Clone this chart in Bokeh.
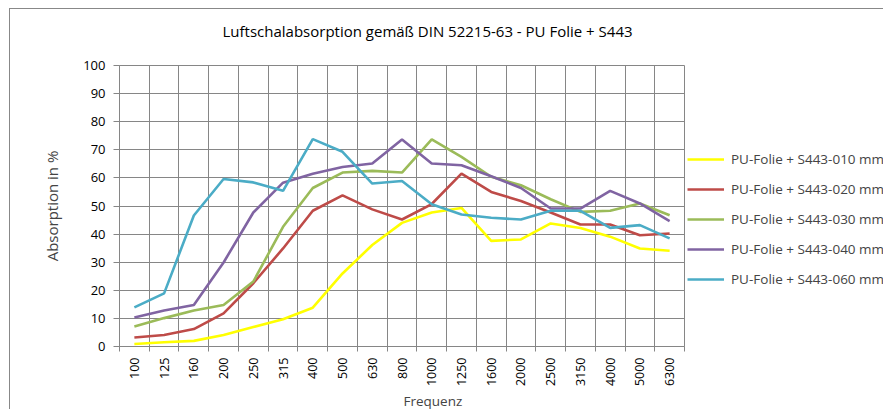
from bokeh.plotting import figure
from bokeh.models import Range1d, FixedTicker, Legend, LegendItem, Title, Label
from bokeh.layouts import row, column
from bokeh.embed import file_html
from bokeh.resources import INLINE
import math

freqs = ["100", "125", "160", "200", "250", "315", "400", "500", "630", "800",
         "1000", "1250", "1600", "2000", "2500", "3150", "4000", "5000", "6300"]

s010 = [0.9, 1.5, 2.0, 4.1, 6.9, 9.7, 13.8, 26.0, 36.1, 44.0, 47.7, 49.3, 37.6, 38.1, 43.8, 42.2, 39.1, 34.9, 34.1]
s020 = [3.2, 4.1, 6.2, 11.8, 22.5, 34.9, 48.3, 53.8, 48.8, 45.2, 50.7, 61.5, 55.0, 51.8, 47.7, 43.4, 43.4, 39.6, 40.2]
s030 = [7.1, 10.1, 12.8, 14.8, 23.1, 42.6, 56.4, 61.9, 62.5, 61.9, 73.7, 67.5, 60.4, 57.4, 52.4, 47.9, 48.3, 50.9, 46.7]
s040 = [10.3, 12.8, 14.8, 29.9, 47.7, 58.3, 61.5, 63.9, 65.1, 73.7, 65.1, 64.5, 60.6, 56.4, 49.1, 49.1, 55.4, 50.9, 44.6]
s060 = [13.9, 18.9, 46.6, 59.6, 58.4, 55.4, 73.8, 69.3, 58.0, 58.9, 50.6, 47.0, 45.8, 45.2, 48.3, 48.3, 42.2, 43.2, 38.5]

names = ["PU-Folie + S443-010 mm", "PU-Folie + S443-020 mm", "PU-Folie + S443-030 mm",
         "PU-Folie + S443-040 mm", "PU-Folie + S443-060 mm"]
colors = ["#FFFF00", "#BE4B48", "#9BBB59", "#8064A2", "#4BACC6"]
series = [s010, s020, s030, s040, s060]
title_text = "Luftschalabsorption gemäß DIN 52215-63 - PU Folie + S443"

FONT = "Open Sans"
GRID = "#868686"

n = len(freqs)
xs = list(range(n))

TOTAL_W = 873
TITLE_H = 45
MAIN_H = 355
MAIN_W = 677
TOP = 11


def bare(w, h, top=0):
    f = figure(width=w, height=h, output_backend="svg", toolbar_location=None,
               x_range=Range1d(1000, 1001), y_range=Range1d(1000, 1001),
               x_axis_location=None, y_axis_location=None,
               min_border_left=0, min_border_right=0, min_border_top=top, min_border_bottom=0,
               background_fill_color="white", border_fill_color="white")
    f.outline_line_color = None
    f.xgrid.visible = False
    f.ygrid.visible = False
    return f


# ---- title strip ----
t = bare(TOTAL_W, TITLE_H)
t.add_layout(Label(x=212, y=24, x_units="screen", y_units="screen", text=title_text,
                   text_align="left", text_baseline="middle", text_font=FONT,
                   text_font_size="15px", text_color="black"))

# ---- main plot ----
p = figure(width=MAIN_W, height=MAIN_H, output_backend="svg", toolbar_location=None,
           x_range=Range1d(-0.5, n - 0.5), y_range=Range1d(0, 100),
           min_border_left=109, min_border_right=3, min_border_top=TOP, min_border_bottom=62,
           background_fill_color="white", border_fill_color="white")
p.outline_line_color = GRID
p.outline_line_width = 1

p.xaxis.ticker = FixedTicker(ticks=xs, minor_ticks=[i - 0.5 for i in range(n + 1)])
p.xaxis.major_label_overrides = {i: f for i, f in enumerate(freqs)}
p.xaxis.major_label_orientation = math.pi / 2
p.xaxis.major_tick_line_color = None
p.xaxis.major_tick_in = 0
p.xaxis.major_tick_out = 0
p.xaxis.minor_tick_line_color = GRID
p.xaxis.minor_tick_in = 0
p.xaxis.minor_tick_out = 5
p.xaxis.axis_line_color = GRID
p.xaxis.axis_label = None
p.xaxis.axis_label_standoff = 0
p.xaxis.major_label_standoff = 6
p.xaxis.major_label_text_font = FONT
p.xaxis.major_label_text_font_size = "12.5px"
p.xaxis.major_label_text_color = "black"

p.add_layout(Title(text="Frequenz", align="left", offset=284, text_font=FONT,
                   text_font_size="13.5px", text_font_style="normal", standoff=0), "below")

p.xgrid.ticker = FixedTicker(ticks=[i - 0.5 for i in range(n + 1)])
p.xgrid.grid_line_color = GRID
p.xgrid.grid_line_width = 1

p.yaxis.ticker = FixedTicker(ticks=list(range(0, 101, 10)))
p.yaxis.minor_tick_line_color = None
p.yaxis.major_tick_line_color = GRID
p.yaxis.major_tick_in = 0
p.yaxis.major_tick_out = 6
p.yaxis.axis_line_color = GRID
p.yaxis.major_label_standoff = 8
p.yaxis.major_label_text_font = FONT
p.yaxis.major_label_text_font_size = "13px"
p.yaxis.major_label_text_color = "black"
p.yaxis.axis_label = "Absorption in %"
p.yaxis.axis_label_text_font = FONT
p.yaxis.axis_label_text_font_style = "normal"
p.yaxis.axis_label_text_font_size = "15px"
p.yaxis.axis_label_standoff = 18
p.ygrid.grid_line_color = GRID
p.ygrid.grid_line_width = 1

for col, ys in zip(colors, series):
    p.line(xs, ys, line_color=col, line_width=2.6)

# ---- legend strip (proxy renderers lie outside its empty view) ----
q = bare(TOTAL_W - MAIN_W, MAIN_H, top=TOP)
items = []
for name, col, ys in zip(names, colors, series):
    r = q.line(xs, ys, line_color=col, line_width=2.6)
    items.append(LegendItem(label=name, renderers=[r]))
legend = Legend(items=items, location=(0, 57), orientation="vertical",
                glyph_width=37, glyph_height=20, label_height=20, spacing=10,
                label_standoff=7, padding=0, margin=0,
                border_line_color=None, background_fill_alpha=0,
                label_text_font=FONT, label_text_font_size="13.5px")
q.add_layout(legend, "center")

layout = column(t, row(p, q, spacing=0), spacing=0)
layout.styles = {"margin-left": "9px", "margin-top": "8px",
                 "border-left": "1px solid #888888", "border-top": "1px solid #888888"}

open("out.html", "w").write(file_html(layout, INLINE))
